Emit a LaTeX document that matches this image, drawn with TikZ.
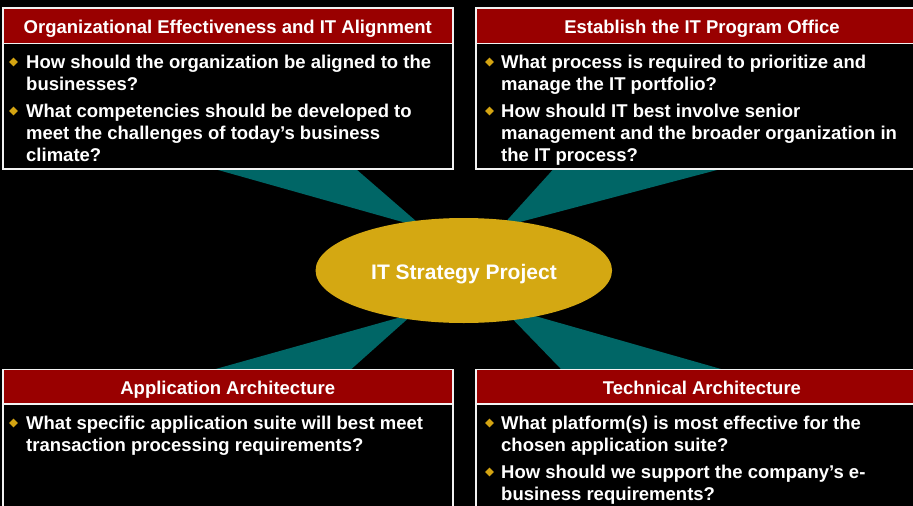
\documentclass[tikz,border=0pt]{standalone}
\usepackage{fontspec}
\setmainfont{Liberation Sans}
\usetikzlibrary{shapes.geometric}
\definecolor{hdrred}{HTML}{990000}
\definecolor{wedgeteal}{HTML}{006666}
\definecolor{ovalgold}{HTML}{D4A812}
\definecolor{bulletgold}{HTML}{D4A412}
\definecolor{rulewhite}{HTML}{F2F2F2}
\tikzset{
  boxline/.style={draw=rulewhite, line width=1.8pt},
  hdrtext/.style={anchor=base, inner sep=0pt, text=white, font=\fontsize{18.5}{22}\bfseries\selectfont},
  bodyline/.style={anchor=base west, inner sep=0pt, text=white, font=\fontsize{18.5}{22}\bfseries\selectfont},
  wedge/.style={fill=wedgeteal},
  bul/.style={fill=bulletgold},
}
\newcommand{\diam}[2]{\fill[bul] (#1,#2) +(-4.3,0) -- +(0,-4.3) -- +(4.3,0) -- +(0,4.3) -- cycle;}
\begin{document}
\begin{tikzpicture}[x=1pt,y=-1pt]
\clip (0,0) rectangle (913,506);
\fill[black] (0,0) rectangle (913,506);
% wedges
\fill[wedge] (211,168) -- (354.8,168) -- (424,228) -- cycle;
\fill[wedge] (554.4,168) -- (724.6,168) -- (501,227) -- cycle;
\fill[wedge] (208.5,371) -- (349.2,371) -- (413.5,313.6) -- cycle;
\fill[wedge] (562.9,371) -- (728,371) -- (500,306) -- cycle;
% boxes
\foreach \xa/\xb in {2.8/452.8, 476/928}{
  \fill[black] (\xa,7.8) rectangle (\xb,168.8);
  \fill[hdrred] (\xa,7.8) rectangle (\xb,43.5);
  \draw[boxline] (\xa,7.8) rectangle (\xb,168.8);
  \draw[boxline] (\xa,43.5) -- (\xb,43.5);
  \fill[black] (\xa,369.5) rectangle (\xb,530);
  \fill[hdrred] (\xa,369.5) rectangle (\xb,404);
  \draw[boxline] (\xa,369.5) rectangle (\xb,530);
  \draw[boxline] (\xa,404) -- (\xb,404);
}
% ellipse
\node[ellipse, fill=ovalgold, minimum width=296.5pt, minimum height=105pt, inner sep=0pt] (core) at (463.8,270.5) {};
\node[anchor=base, inner sep=0pt, text=white, font=\fontsize{21}{25}\bfseries\selectfont] (coretext) at (464,279) {IT Strategy Project};
% headers
\node[hdrtext] (h1) at (227.8,33) {Organizational Effectiveness and IT Alignment};
\node[hdrtext] (h2) at (702,33) {Establish the IT Program Office};
\node[hdrtext] (h3) at (227.8,394) {Application Architecture};
\node[hdrtext] (h4) at (702,394) {Technical Architecture};
% top-left body
\diam{13.5}{62}
\node[bodyline] (a1) at (26,68.5) {How should the organization be aligned to the};
\node[bodyline] (a2) at (26,90.5) {businesses?};
\diam{13.5}{111}
\node[bodyline] (a3) at (26,117.5) {What competencies should be developed to};
\node[bodyline] (a4) at (26,139.5) {meet the challenges of today’s business};
\node[bodyline] (a5) at (26,161.5) {climate?};
% top-right body
\diam{489.5}{62}
\node[bodyline] (b1) at (501,68.5) {What process is required to prioritize and};
\node[bodyline] (b2) at (501,90.5) {manage the IT portfolio?};
\diam{489.5}{111}
\node[bodyline] (b3) at (501,117.5) {How should IT best involve senior};
\node[bodyline] (b4) at (501,139.5) {management and the broader organization in};
\node[bodyline] (b5) at (501,161.5) {the IT process?};
% bottom-left body
\diam{13.5}{423}
\node[bodyline] (c1) at (26,429) {What specific application suite will best meet};
\node[bodyline] (c2) at (26,451) {transaction processing requirements?};
% bottom-right body
\diam{489.5}{423}
\node[bodyline] (d1) at (501,429) {What platform(s) is most effective for the};
\node[bodyline] (d2) at (501,451) {chosen application suite?};
\diam{489.5}{472}
\node[bodyline] (d3) at (501,478) {How should we support the company’s e-};
\node[bodyline] (d4) at (501,500) {business requirements?};
\end{tikzpicture}
\end{document}
